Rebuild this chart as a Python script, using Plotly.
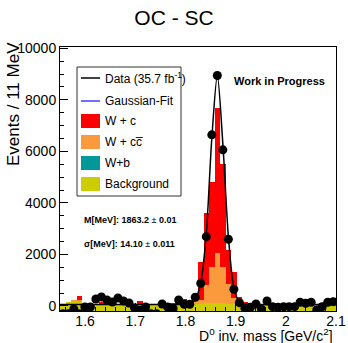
import plotly.graph_objects as go
import numpy as np

# ---------------- data ----------------
mass_low = 1.55
bin_width = 0.011
n_bins = 50

background = [60, 150, 160, 150, 90, 80, 80, 90, 80, 70,
              80, 90, 80, 70, 80, 80, 90, 80, 70, 80,
              80, 90, 80, 90, 80, 90, 100, 110, 100, 100,
              90, 90, 80, 90, 80, 80, 80, 70, 80, 80,
              80, 70, 80, 90, 80, 70, 80, 80, 90, 100]
w_b = [0] * 27 + [20, 30, 20] + [0] * 20
w_cc = [0, 0, 60, 80] + [0] * 20 + [120, 160, 700, 1370, 1930, 1380, 760, 210, 20] + [0] * 17
w_c = [0, 0, 0, 170, 0, 0, 0, 60, 0, 0,
       0, 0, 0, 0, 120, 0, 0, 0, 0, 0,
       40, 0, 200, 80, 230, 1450, 2800, 3300, 5640, 4000,
       1320, 1000, 250, 70, 40, 0, 0, 50, 0, 0,
       40, 0, 0, 0, 60, 0, 0, 40, 0, 0]
data_counts = [-300, -300, -116, -300, -39, -39, 272, 350, 233, 155,
               310, 194, 116, -78, -170, -39, -300, -300, 78, -39,
               -100, 233, 66, 66, 338, 881, 2691, 6640, 8943, 6058,
               2590, 648, 128, -89, -50, 78, -128, 194, -27, -50,
               -27, -27, -27, 144, 105, 144, -155, -27, 144, 167]

fit_mass = [1.55, 1.70, 1.7865, 1.7975, 1.8085, 1.8195, 1.8305, 1.8415, 1.8525,
            1.8635, 1.8745, 1.8855, 1.8965, 1.9075, 1.9185, 2.00, 2.10]
fit_vals = [60, 60, 60, 65, 90, 250, 900, 2800, 6500,
            8943, 6300, 2700, 700, 150, 80, 60, 60]

y_min, y_max = -195, 10050
x_min, x_max = 1.55, 2.10

centers = mass_low + bin_width * (np.arange(n_bins) + 0.5)

bkg = np.array(background, float)
c1 = bkg
c2 = c1 + np.array(w_b, float)
c3 = c2 + np.array(w_cc, float)
c4 = c3 + np.array(w_c, float)

RED = "#ff0000"
ORANGE = "#fb9a3c"
TEAL = "#009898"
YELLOW = "#cccc00"
BLUE = "#4040ff"

fig = go.Figure()
for cum, col, name in [(c4, RED, "W + c"), (c3, ORANGE, "W + cc\u0305"),
                       (c2, TEAL, "W+b"), (c1, YELLOW, "Background")]:
    fig.add_trace(go.Bar(x=centers, y=cum - y_min, base=y_min, width=bin_width,
                         marker=dict(color=col, line=dict(width=0)), name=name,
                         showlegend=False))

fig.add_trace(go.Scatter(x=fit_mass, y=fit_vals, mode="lines",
                         line=dict(color="black", width=1.5, shape="spline", smoothing=0.8),
                         showlegend=False))
fig.add_trace(go.Scatter(x=centers, y=data_counts, mode="markers",
                         marker=dict(color="black", size=9),
                         showlegend=False, cliponaxis=True))

# frame geometry (pixels)
L, R, T, B = 60, 336, 47, 311
W_, H_ = R - L, B - T


def px(xp):
    return (xp - L) / W_


def py(yp):
    return (B - yp) / H_


font = "Liberation Sans, Arial, Helvetica, sans-serif"

shapes = []
annotations = []
# legend box
shapes.append(dict(type="rect", xref="paper", yref="paper", x0=px(77), x1=px(181),
                   y0=py(196), y1=py(67), line=dict(color="#333333", width=1),
                   fillcolor="white", layer="above"))
leg_items = [("line", "black", "Data (35.7 fb<sup>-1</sup>)", 78),
             ("line", BLUE, "Gaussian-Fit", 101),
             ("box", RED, "W + c", 121),
             ("box", ORANGE, "W + cc\u0305", 142),
             ("box", TEAL, "W+b", 163),
             ("box", YELLOW, "Background", 184)]
for kind, col, txt, yc in leg_items:
    if kind == "line":
        shapes.append(dict(type="line", xref="paper", yref="paper", x0=px(81), x1=px(100),
                           y0=py(yc), y1=py(yc), line=dict(color=col, width=1.5),
                           layer="above"))
    else:
        shapes.append(dict(type="rect", xref="paper", yref="paper", x0=px(81), x1=px(100),
                           y0=py(yc + 7), y1=py(yc - 7), line=dict(width=0),
                           fillcolor=col, layer="above"))
    annotations.append(dict(xref="paper", yref="paper", x=px(103), y=py(yc),
                            xanchor="left", yanchor="middle", text=txt, showarrow=False,
                            font=dict(family=font, size=12, color="black")))

annotations += [
    dict(xref="paper", yref="paper", x=px(232), y=py(81), xanchor="left", yanchor="middle",
         text="<b>Work in Progress</b>", showarrow=False,
         font=dict(family=font, size=11, color="black")),
    dict(xref="paper", yref="paper", x=px(82), y=py(220), xanchor="left", yanchor="middle",
         text="<b>M[MeV]: 1863.2</b> ± <b>0.01</b>", showarrow=False,
         font=dict(family=font, size=9, color="black")),
    dict(xref="paper", yref="paper", x=px(82), y=py(244), xanchor="left", yanchor="middle",
         text="<b>σ[MeV]: 14.10</b> ± <b>0.011</b>", showarrow=False,
         font=dict(family=font, size=9, color="black")),
    dict(xref="paper", yref="paper", x=px(14), y=py(40), xanchor="center", yanchor="top",
         text="Events / 11 MeV", textangle=-90, showarrow=False,
         font=dict(family=font, size=17, color="black")),
    dict(xref="paper", yref="paper", x=px(335), y=py(335), xanchor="right", yanchor="middle",
         text="D<sup>0</sup> inv. mass [GeV/c<sup>2</sup>]", showarrow=False,
         font=dict(family=font, size=14, color="black")),
]

fig.update_layout(
    width=348, height=343,
    margin=dict(l=L, r=348 - R, t=T, b=343 - B, autoexpand=False),
    paper_bgcolor="white", plot_bgcolor="white",
    barmode="overlay", bargap=0,
    title=dict(text="OC - SC", x=0.5, xanchor="center", y=1 - 18 / 343, yanchor="middle",
               font=dict(family=font, size=21, color="black")),
    shapes=shapes, annotations=annotations,
    showlegend=False,
)
fig.update_xaxes(range=[x_min, x_max], dtick=0.1, tick0=1.6, ticks="inside", ticklen=8,
                 tickcolor="black", showgrid=False, zeroline=False, showline=True,
                 linecolor="black", linewidth=1, mirror=True, automargin=False,
                 ticklabelstandoff=-3,
                 minor=dict(dtick=0.02, ticks="inside", ticklen=4, tickcolor="black"),
                 tickfont=dict(family=font, size=14, color="black"))
fig.update_yaxes(range=[y_min, y_max], dtick=2000, tick0=0, ticks="inside", ticklen=8,
                 tickcolor="black", showgrid=False, zeroline=False, showline=True,
                 linecolor="black", linewidth=1, mirror=True, automargin=False,
                 tickformat="d",
                 minor=dict(dtick=500, ticks="inside", ticklen=4, tickcolor="black"),
                 tickfont=dict(family=font, size=14, color="black"))

fig.write_html("out.html")
